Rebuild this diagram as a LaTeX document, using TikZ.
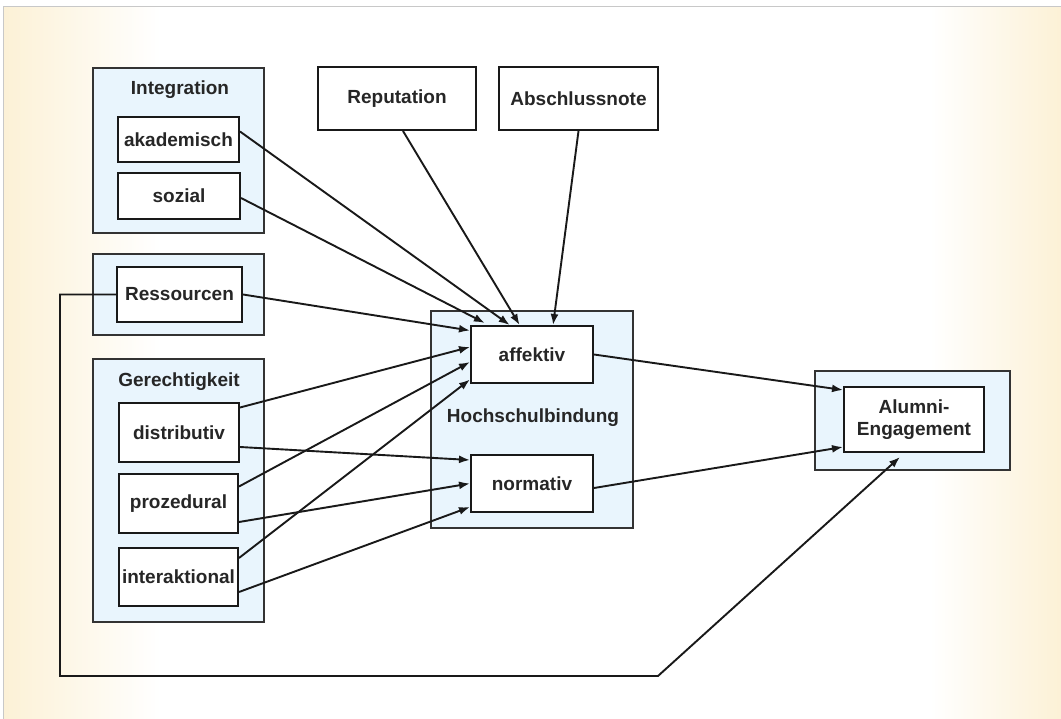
\documentclass[tikz,border=0pt]{standalone}
\usepackage{fontspec}
\setmainfont{Liberation Sans}
\usetikzlibrary{arrows.meta,calc}
\definecolor{outerfill}{HTML}{E9F5FD}
\definecolor{cream}{HTML}{FCF1D6}
\definecolor{edgegray}{HTML}{C8C8C8}
\begin{document}
\begin{tikzpicture}[x=1pt,y=-1pt,
  outerbox/.style={draw=black!80,fill=outerfill,line width=2pt,inner sep=0pt},
  innerbox/.style={draw=black!90,fill=white,line width=2pt,inner sep=0pt,font=\fontsize{19}{22}\selectfont\bfseries,text=black!85,align=center},
  lbl/.style={inner sep=0pt,font=\fontsize{19}{22}\selectfont\bfseries,text=black!85},
  conn/.style={line width=1.9pt,black!90,-{Latex[length=11pt,width=8pt]}},
]
\useasboundingbox (0,0) rectangle (1061,719);
% background
\fill[white] (0,0) rectangle (1061,719);
\shade[left color=cream,right color=white] (3,7) rectangle (160,719);
\shade[left color=white,right color=cream] (930,7) rectangle (1061,719);
\draw[edgegray,line width=1pt] (3,719) -- (3,7) -- (1061,7);

% outer boxes
\node[outerbox,minimum width=171,minimum height=165] (integ) at (178.5,150.5) {};
\node[outerbox,minimum width=171,minimum height=81] (resso) at (178.5,294.5) {};
\node[outerbox,minimum width=171,minimum height=263] (gero) at (178.5,490.5) {};
\node[outerbox,minimum width=202,minimum height=217] (hsb) at (532,419.5) {};
\node[outerbox,minimum width=195,minimum height=99] (alumo) at (912.5,420.5) {};

% group labels
\node[lbl] (integlbl) at (180,90) {Integration};
\node[lbl] (gerlbl) at (179,382) {Gerechtigkeit};
\node[lbl] (hsblbl) at (533,418) {Hochschulbindung};

% inner boxes
\node[innerbox,minimum width=121,minimum height=45] (akad) at (178.5,139.5) {akademisch};
\node[innerbox,minimum width=122,minimum height=46] (sozial) at (179,196) {sozial};
\node[innerbox,minimum width=125,minimum height=55] (ress) at (179.5,294.5) {Ressourcen};
\node[innerbox,minimum width=120,minimum height=59] (dist) at (179,432.5) {distributiv};
\node[innerbox,minimum width=119,minimum height=59] (proz) at (178.5,503.5) {prozedural};
\node[innerbox,minimum width=119,minimum height=58] (inter) at (178.5,577) {interaktional};
\node[innerbox,minimum width=158,minimum height=63] (rep) at (397,98.5) {Reputation};
\node[innerbox,minimum width=159,minimum height=63] (absch) at (578.5,98.5) {Abschlussnote};
\node[innerbox,minimum width=122,minimum height=57] (aff) at (532,354.5) {affektiv};
\node[innerbox,minimum width=122,minimum height=57] (norm) at (532,483.5) {normativ};
\node[innerbox,minimum width=140,minimum height=65] (alum) at (914,419.5) {Alumni-\\Engagement};

% connectors into affektiv (top)
\draw[conn] ($(akad.east)+(0,-8)$) -- ($(aff.north west)!0.32!(aff.north east)$);
\draw[conn] ($(sozial.east)+(0,2)$) -- ($(aff.north west)!0.12!(aff.north east)+(0,-2)$);
\draw[conn] ($(rep.south)+(6,0)$) -- ($(aff.north west)!0.40!(aff.north east)$);
\draw[conn] (absch.south) -- ($(aff.north west)!0.67!(aff.north east)$);
% connectors into affektiv (left)
\draw[conn] (ress.east) -- ($(aff.west)+(0,-24)$);
\draw[conn] ($(dist.east)+(0,-25)$) -- ($(aff.west)+(0,-7.5)$);
\draw[conn] ($(proz.east)+(0,-17)$) -- ($(aff.west)+(0,7.5)$);
\draw[conn] ($(inter.east)+(0,-19)$) -- ($(aff.west)+(0,25)$);
% connectors into normativ
\draw[conn] ($(dist.east)+(0,14.5)$) -- ($(norm.west)+(0,-23.5)$);
\draw[conn] ($(proz.east)+(0,18.5)$) -- (norm.west);
\draw[conn] ($(inter.east)+(0,15)$) -- ($(norm.west)+(0,23.5)$);
% into Alumni
\draw[conn] (aff.east) -- ($(alum.west)+(0,-29.5)$);
\draw[conn] ($(norm.east)+(0,4.5)$) -- ($(alum.west)+(0,27.5)$);
% loop from Ressourcen
\coordinate (c1) at (60,294.5);
\coordinate (c2) at (60,676);
\coordinate (c3) at (658,676);
\coordinate (alumtip) at ($(alum.south)+(-14,4)$);
\draw[conn] (ress.west) -- (c1) -- (c2) -- (c3) -- (alumtip);
\end{tikzpicture}
\end{document}
